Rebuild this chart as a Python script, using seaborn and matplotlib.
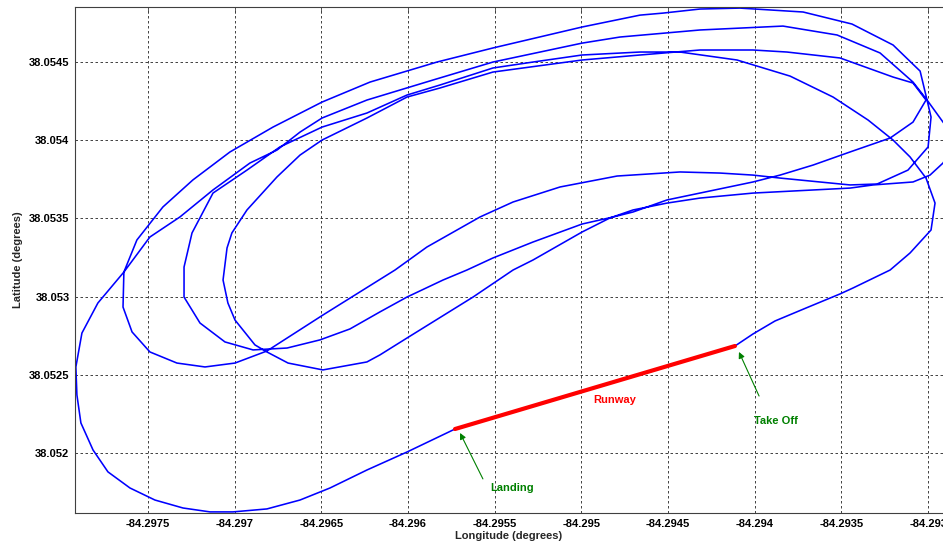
import pandas as pd
import matplotlib
matplotlib.use("Agg")
import matplotlib.pyplot as plt
import seaborn as sns

# GPS track, split in laps (longitude / latitude in degrees)
lap1_lon = [-84.294114, -84.294010, -84.293883, -84.293704, -84.293508, -84.293433, -84.293219, -84.293104,
            -84.292983, -84.292960, -84.293012, -84.293104, -84.293202, -84.293346, -84.293548, -84.293796,
            -84.294102, -84.294431, -84.294662, -84.294996, -84.295279, -84.295510, -84.295816, -84.296006,
            -84.296237, -84.296496, -84.296739, -84.296929, -84.297125, -84.297246, -84.297292, -84.297292,
            -84.297200, -84.297056, -84.296894, -84.296698, -84.296508, -84.296335, -84.296162, -84.296006,
            -84.295798, -84.295660, -84.295510, -84.295279, -84.294996, -84.294817, -84.294702, -84.294506,
            -84.294316, -84.294010, -84.293854, -84.293664, -84.293450, -84.293219, -84.293087, -84.293012]
lap1_lat = [38.052684, 38.052761, 38.052844, 38.052927, 38.053017, 38.053055, 38.053170, 38.053279,
            38.053426, 38.053598, 38.053758, 38.053893, 38.054001, 38.054129, 38.054276, 38.054410,
            38.054513, 38.054564, 38.054564, 38.054545, 38.054500, 38.054462, 38.054353, 38.054289,
            38.054174, 38.054084, 38.053957, 38.053809, 38.053662, 38.053407, 38.053189, 38.052997,
            38.052831, 38.052710, 38.052659, 38.052671, 38.052723, 38.052793, 38.052902, 38.052997,
            38.053106, 38.053170, 38.053247, 38.053349, 38.053464, 38.053509, 38.053541, 38.053618,
            38.053662, 38.053733, 38.053777, 38.053841, 38.053925, 38.054014, 38.054116, 38.054257]

lap2_lon = [-84.293087, -84.293202, -84.293508, -84.293814, -84.294010, -84.294316, -84.294662, -84.294996,
            -84.295510, -84.295816, -84.296006, -84.296237, -84.296496, -84.296623, -84.296756, -84.296929,
            -84.297016, -84.297044, -84.297067, -84.297039, -84.296998, -84.296883, -84.296814, -84.296692,
            -84.296491, -84.296237, -84.296162, -84.296006, -84.295625, -84.295394, -84.295279, -84.294996,
            -84.294835, -84.294702, -84.294506, -84.294316, -84.294010, -84.293664, -84.293450, -84.293317,
            -84.293087, -84.292989, -84.292914, -84.292833]
lap2_lat = [38.054366, 38.054404, 38.054526, 38.054564, 38.054577, 38.054577, 38.054545, 38.054513,
            38.054436, 38.054334, 38.054276, 38.054142, 38.054001, 38.053905, 38.053765, 38.053554,
            38.053407, 38.053311, 38.053106, 38.052959, 38.052850, 38.052691, 38.052646, 38.052575,
            38.052531, 38.052582, 38.052627, 38.052735, 38.052997, 38.053170, 38.053234, 38.053413,
            38.053503, 38.053554, 38.053598, 38.053630, 38.053662, 38.053682, 38.053694, 38.053714,
            38.053733, 38.053777, 38.053854, 38.054001]

lap3_lon = [-84.292914, -84.293006, -84.293046, -84.293202, -84.293439, -84.293721, -84.294085, -84.294316,
            -84.294529, -84.294662, -84.294996, -84.295510, -84.295833, -84.296219, -84.296496, -84.296779,
            -84.297027, -84.297241, -84.297414, -84.297564, -84.297639, -84.297644, -84.297592, -84.297489,
            -84.297333, -84.297171, -84.296998, -84.296814, -84.296491, -84.296260, -84.296075, -84.295891,
            -84.295585, -84.295394, -84.295123, -84.294794, -84.294431, -84.294200, -84.294010, -84.293854,
            -84.293623, -84.293450, -84.293294, -84.293116, -84.293000, -84.292983, -84.293006]
lap3_lat = [38.054116, 38.054257, 38.054442, 38.054609, 38.054743, 38.054820, 38.054845, 38.054839,
            38.054813, 38.054800, 38.054724, 38.054590, 38.054500, 38.054372, 38.054244, 38.054084,
            38.053925, 38.053746, 38.053573, 38.053362, 38.053157, 38.052933, 38.052774, 38.052646,
            38.052575, 38.052550, 38.052575, 38.052652, 38.052882, 38.053042, 38.053170, 38.053317,
            38.053509, 38.053605, 38.053701, 38.053771, 38.053797, 38.053790, 38.053777, 38.053758,
            38.053733, 38.053714, 38.053720, 38.053809, 38.053957, 38.054148, 38.054257]

approach_lon = [-84.293006, -84.293087, -84.293277, -84.293525, -84.293837, -84.294316, -84.294777, -84.294996,
                -84.295510, -84.295856, -84.296237, -84.296496, -84.296623, -84.296756, -84.296912, -84.297125,
                -84.297316, -84.297489, -84.297639, -84.297789, -84.297881, -84.297916, -84.297910, -84.297887,
                -84.297817, -84.297731, -84.297604, -84.297460, -84.297298, -84.297142, -84.297010, -84.296814,
                -84.296623, -84.296450, -84.296237, -84.296006, -84.295729]
approach_lat = [38.054257, 38.054372, 38.054558, 38.054673, 38.054730, 38.054705, 38.054660, 38.054621,
                38.054500, 38.054385, 38.054257, 38.054142, 38.054052, 38.053937, 38.053854, 38.053682,
                38.053509, 38.053381, 38.053157, 38.052959, 38.052767, 38.052550, 38.052371, 38.052192,
                38.052019, 38.051879, 38.051776, 38.051699, 38.051648, 38.051623, 38.051623, 38.051642,
                38.051699, 38.051776, 38.051891, 38.052006, 38.052153]

runway_lon = [-84.295729, -84.294114]
runway_lat = [38.052153, 38.052684]

xticks = [-84.2975, -84.297, -84.2965, -84.296, -84.2955, -84.295, -84.2945, -84.294, -84.2935, -84.293]
yticks = [38.052, 38.0525, 38.053, 38.0535, 38.054, 38.0545]

track = pd.DataFrame({
    'lon': lap1_lon + lap2_lon + lap3_lon + approach_lon,
    'lat': lap1_lat + lap2_lat + lap3_lat + approach_lat,
})
runway = pd.DataFrame({'lon': runway_lon, 'lat': runway_lat})

sns.set_style("white")
plt.rcParams['font.family'] = ['Liberation Sans', 'DejaVu Sans']

fig = plt.figure(figsize=(9.43, 5.46), dpi=100)
ax = fig.add_axes([75 / 943, 33 / 546, 868 / 943, 506 / 546])

sns.lineplot(data=track, x='lon', y='lat', sort=False, estimator=None,
             color='#0000ff', linewidth=1.15, ax=ax)
sns.lineplot(data=runway, x='lon', y='lat', sort=False, estimator=None,
             color='#ff0000', linewidth=3.0, ax=ax)

ax.set_xlim(-84.297921, -84.292914)
ax.set_ylim(38.051616, 38.054852)
ax.set_xticks(xticks)
ax.set_xticklabels(['%g' % t for t in xticks])
ax.set_yticks(yticks)
ax.set_yticklabels(['%g' % t for t in yticks])

ax.grid(True, color='#222222', linestyle=(0, (3, 3)), linewidth=0.6)
ax.tick_params(direction='in', length=4, width=0.6, colors='#404040',
               labelcolor='black', labelsize=8, top=True, pad=4)
for lab in ax.get_xticklabels() + ax.get_yticklabels():
    lab.set_fontweight('bold')
for side in ['left', 'bottom', 'top']:
    ax.spines[side].set_color('#404040')
    ax.spines[side].set_linewidth(0.8)
ax.spines['right'].set_visible(False)

ax.set_xlabel('Longitude (degrees)', fontsize=8, fontweight='bold')
ax.set_ylabel('Latitude (degrees)', fontsize=8, fontweight='bold')
ax.xaxis.set_label_coords(0.5, -0.035)
ax.yaxis.set_label_coords(-0.06, 0.5)

# annotations
ax.text(-84.294806, 38.052339, 'Runway', color='#ff0000', fontsize=8,
        fontweight='bold', ha='center', va='center')
ax.text(-84.295400, 38.051776, 'Landing', color='#008000', fontsize=8,
        fontweight='bold', ha='center', va='center')
ax.text(-84.293877, 38.052205, 'Take Off', color='#008000', fontsize=8,
        fontweight='bold', ha='center', va='center')
arrow = dict(arrowstyle='-|>', color='#008000', lw=0.8, mutation_scale=9,
             shrinkA=0, shrinkB=0)
ax.annotate('', xy=(-84.295700, 38.052128), xytext=(-84.295568, 38.051834), arrowprops=arrow)
ax.annotate('', xy=(-84.294091, 38.052646), xytext=(-84.293975, 38.052364), arrowprops=arrow)

fig.savefig('out.png', dpi=100)
